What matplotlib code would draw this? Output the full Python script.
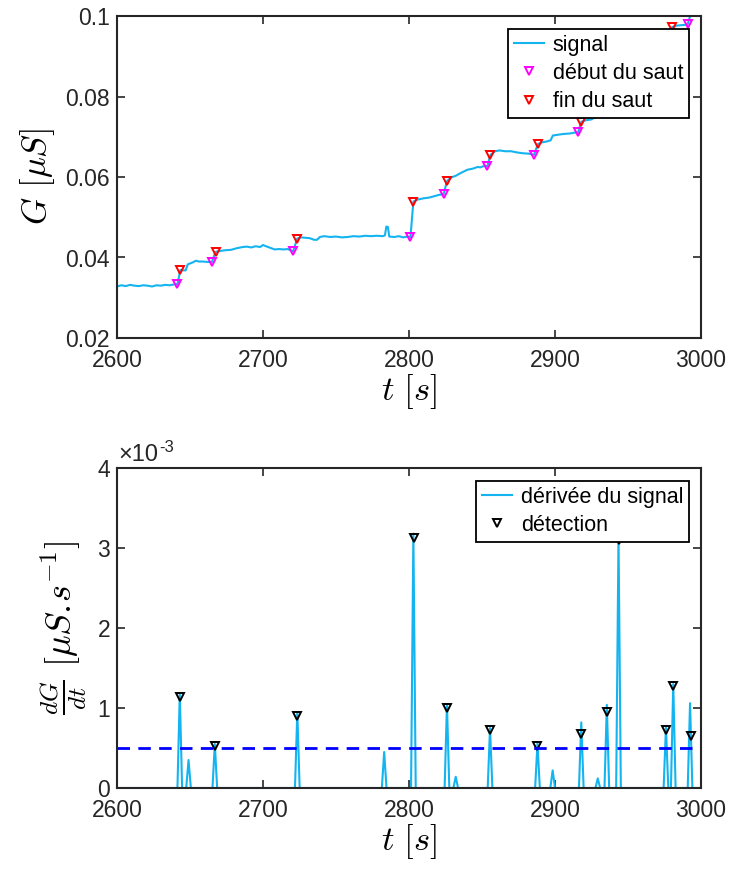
import matplotlib
matplotlib.use('Agg')
import matplotlib.pyplot as plt
import numpy as np

plt.rcParams['font.family'] = ['Liberation Sans', 'DejaVu Sans']
plt.rcParams['mathtext.fontset'] = 'cm'

# signal G(t) [uS]
t_sig = [2600, 2603, 2606, 2609, 2612, 2615, 2618, 2621, 2624, 2627, 2630, 2633, 2636, 2639, 2641.4,
         2643.4, 2645, 2647, 2648.5, 2652, 2654, 2656, 2659, 2662, 2665,
         2667.5, 2670, 2674, 2678, 2682, 2686, 2689, 2692, 2695, 2698, 2700, 2702, 2705, 2708, 2711, 2714, 2717, 2720.6,
         2723.4, 2726, 2729, 2732, 2735, 2737, 2739, 2742, 2746, 2750, 2754, 2758, 2762, 2766, 2770, 2774, 2778, 2782,
         2783.5, 2784.5, 2785.5, 2786.5, 2790, 2793, 2796, 2799, 2801,
         2803, 2806, 2810, 2814, 2818, 2821, 2823.7,
         2826, 2829, 2832, 2836, 2840, 2844, 2847, 2849, 2851, 2853.7,
         2855.8, 2859, 2862, 2866, 2870, 2874, 2878, 2882, 2885.6,
         2888.3, 2891, 2894, 2897, 2898.5, 2902, 2906, 2910, 2913, 2915.8,
         2918, 2921, 2925, 2929, 2933, 2936, 2940, 2942, 2945, 2950, 2956, 2962, 2968, 2973, 2975,
         2978, 2980, 2983, 2986, 2989, 2990.8, 2993, 2996]
G_sig = [0.0328, 0.0331, 0.0329, 0.0332, 0.0330, 0.0329, 0.0331, 0.0330, 0.0328, 0.0331, 0.0330, 0.0332, 0.0331, 0.0333, 0.0334,
         0.0369, 0.0368, 0.0368, 0.0383, 0.0388, 0.0392, 0.0390, 0.0390, 0.0389, 0.0389,
         0.0414, 0.0416, 0.0418, 0.0419, 0.0423, 0.0426, 0.0427, 0.0425, 0.0428, 0.0426, 0.0431, 0.0428, 0.0424, 0.0420, 0.0421, 0.0420, 0.0421, 0.0415,
         0.0447, 0.0450, 0.0449, 0.0448, 0.0444, 0.0444, 0.0451, 0.0453, 0.0451, 0.0452, 0.0450, 0.0451, 0.0453, 0.0452, 0.0454, 0.0453, 0.0454, 0.0453,
         0.0455, 0.0477, 0.0476, 0.0452, 0.0451, 0.0453, 0.0450, 0.0452, 0.0451,
         0.0539, 0.0544, 0.0547, 0.0549, 0.0553, 0.0556, 0.0557,
         0.0590, 0.0599, 0.0603, 0.0611, 0.0618, 0.0621, 0.0625, 0.0624, 0.0627, 0.0627,
         0.0655, 0.0664, 0.0666, 0.0664, 0.0664, 0.0661, 0.0659, 0.0658, 0.0655,
         0.0682, 0.0686, 0.0688, 0.0691, 0.0703, 0.0705, 0.0707, 0.0708, 0.0710, 0.0711,
         0.0737, 0.0741, 0.0743, 0.0752, 0.0758, 0.0775, 0.0780, 0.0782, 0.0870, 0.0878, 0.0885, 0.0892, 0.0898, 0.0905, 0.0910,
         0.0935, 0.0972, 0.0976, 0.0977, 0.0978, 0.0979, 0.1005, 0.1020]

# jump start / end markers
t_debut = [2641.4, 2665, 2720.6, 2801, 2823.7, 2853.7, 2885.6, 2915.8, 2933, 2942, 2975, 2990.8]
G_debut = [0.0334, 0.0389, 0.0415, 0.0451, 0.0557, 0.0627, 0.0655, 0.0711, 0.0758, 0.0782, 0.0910, 0.0979]
t_fin = [2643.4, 2667.5, 2723.4, 2803, 2826, 2855.8, 2888.3, 2918, 2936, 2945, 2980]
G_fin = [0.0369, 0.0414, 0.0447, 0.0539, 0.0590, 0.0655, 0.0682, 0.0737, 0.0775, 0.0870, 0.0972]

# derivative spikes (centre [s], peak [uS/s])
spike_t = [2643, 2649, 2667, 2723.5, 2783, 2803, 2826, 2832, 2855.5, 2888, 2898.4, 2918, 2929.3, 2935.5, 2943.5, 2976, 2981, 2992.5]
spike_v = [1.18e-3, 0.35e-3, 0.55e-3, 0.95e-3, 0.45e-3, 3.18e-3, 1.05e-3, 0.14e-3, 0.75e-3, 0.56e-3, 0.22e-3, 0.82e-3, 0.12e-3,
           1.04e-3, 3.15e-3, 0.76e-3, 1.30e-3, 1.06e-3]
half_w = 1.6

# detections
t_det = [2643.4, 2667.2, 2723.6, 2803.3, 2826, 2855.5, 2888, 2917.9, 2935.5, 2943.5, 2976, 2981, 2993]
v_det = [1.14e-3, 0.53e-3, 0.90e-3, 3.12e-3, 1.00e-3, 0.72e-3, 0.52e-3, 0.68e-3, 0.95e-3, 3.10e-3, 0.72e-3, 1.27e-3, 0.65e-3]
seuil = 0.5e-3

# build derivative polyline from the spikes
t_der = [2600]
v_der = [0]
for c, p in zip(spike_t, spike_v):
    t_der += [c - half_w, c, c + half_w]
    v_der += [0, p, 0]
t_der.append(3000)
v_der.append(0)

line_col = '#14B4F0'
txt_col = '#262626'

fig = plt.figure(figsize=(7.31, 8.71), dpi=100)
ax1 = fig.add_axes([117/731, 1 - 338/871, 584/731, 322/871])
ax2 = fig.add_axes([117/731, 1 - 788/871, 584/731, 320/871])

ax1.plot(t_sig, G_sig, color=line_col, lw=1.5, label='signal')
ax1.plot(t_debut, G_debut, 'v', ls='none', mfc='none', mec='#FF00FF', mew=1.4, ms=5.5, label='début du saut')
ax1.plot(t_fin, G_fin, 'v', ls='none', mfc='none', mec='#FF0000', mew=1.4, ms=5.5, label='fin du saut')
ax1.set_xlim(2600, 3000)
ax1.set_ylim(0.02, 0.1)
ax1.set_yticks([0.02, 0.04, 0.06, 0.08, 0.1])
ax1.set_yticklabels(['0.02', '0.04', '0.06', '0.08', '0.1'])
ax1.set_xticks([2600, 2700, 2800, 2900, 3000])
ax1.set_xlabel(r'$t\ [s]$', fontsize=25, color='k', labelpad=0)
ax1.set_ylabel(r'$G\ [\mu S]$', fontsize=25, color='k', labelpad=6)

ax2.plot(t_der, v_der, color=line_col, lw=1.5, label='dérivée du signal')
ax2.plot(t_det, v_det, 'v', ls='none', mfc='none', mec='k', mew=1.4, ms=5.5, label='détection')
ax2.axhline(seuil, color='#0000FF', ls=(0, (4.5, 3)), lw=2)
ax2.set_xlim(2600, 3000)
ax2.set_ylim(0, 4e-3)
ax2.set_yticks([0, 1e-3, 2e-3, 3e-3, 4e-3])
ax2.set_yticklabels(['0', '1', '2', '3', '4'])
ax2.set_xticks([2600, 2700, 2800, 2900, 3000])
ax2.set_xlabel(r'$t\ [s]$', fontsize=25, color='k', labelpad=0)
ax2.set_ylabel(r'$\frac{dG}{dt}\ [\mu S.\!s^{-1}]$', fontsize=26, color='k', labelpad=6)
ax2.text(0.003, 1.006, '×10', transform=ax2.transAxes,
         fontsize=17, color=txt_col, ha='left', va='bottom')
ax2.annotate('-3', xy=(0.003, 1.006), xycoords='axes fraction', xytext=(29, 8),
             textcoords='offset points', fontsize=12, color=txt_col, ha='left', va='bottom')

for ax in (ax1, ax2):
    ax.tick_params(direction='in', top=True, right=True, length=6, width=1.2,
                   labelsize=16.5, colors=txt_col, pad=5)
    ax.tick_params(axis='x', pad=8)
    for s in ax.spines.values():
        s.set_linewidth(1.5)
        s.set_color(txt_col)
    leg = ax.legend(loc='upper right', bbox_to_anchor=(0.98, 0.96), fontsize=15.5, frameon=True,
                    fancybox=False, edgecolor='k', framealpha=1, handlelength=1.4, handletextpad=0.4,
                    borderpad=0.28, labelspacing=0.33, borderaxespad=0)
    leg.get_frame().set_linewidth(1.3)

fig.savefig('out.png', dpi=100)
